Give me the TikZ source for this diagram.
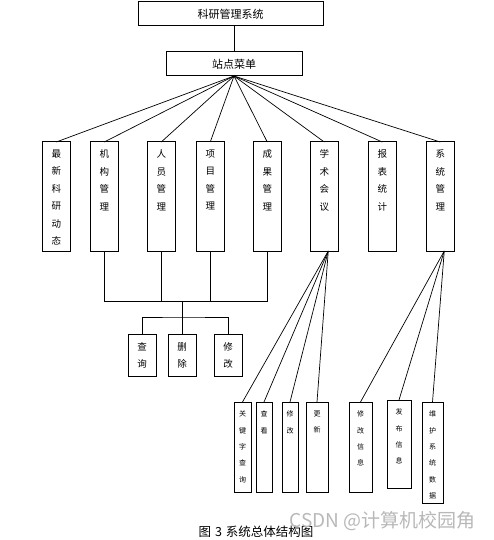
\documentclass[tikz,border=0pt]{standalone}
\usepackage{fontspec}
\setmainfont{Noto Sans CJK SC}
\usetikzlibrary{positioning}

% text stacked from the top of a tall box
\newcommand{\vtxt}[3]{\parbox[t][#1][t]{1.2em}{\centering\vspace*{#2}#3}}

\tikzset{
  menubox/.style={draw, line width=1pt, outer sep=0pt, minimum height=24pt, inner sep=0pt, anchor=north west, font=\fontsize{11}{12}\selectfont},
  colbox/.style={draw, line width=1pt, outer sep=0pt, minimum width=28.5pt, inner sep=0pt, font=\fontsize{9.5}{17.5}\selectfont},
  opbox/.style={draw, line width=1pt, outer sep=0pt, minimum width=28pt, inner sep=0pt, font=\fontsize{9.5}{16.5}\selectfont},
  subbox/.style={draw, line width=1pt, outer sep=0pt, inner sep=0pt, anchor=north west, font=\fontsize{7}{16.4}\selectfont},
  link/.style={line width=0.7pt},
}

\begin{document}
\begin{tikzpicture}[x=1pt, y=-1pt]
\useasboundingbox (0,0) rectangle (493,540);

\node[menubox, minimum width=185pt] (sys) at (138,2) {科研管理系统};
\node[menubox, minimum width=136pt] (menu) at (166,52) {站点菜单};

% modules
\node[colbox, anchor=north west] (news) at (42,142) {\vtxt{109pt}{7.7pt}{最\\新\\科\\研\\动\\态}};
\node[colbox, right=19.5pt of news] (org) {\vtxt{109pt}{7.7pt}{机\\构\\管\\理}};
\node[colbox, right=28.5pt of org] (staff) {\vtxt{109pt}{7.7pt}{人\\员\\管\\理}};
\node[colbox, right=20.5pt of staff] (proj) {\vtxt{109pt}{7.7pt}{项\\目\\管\\理}};
\node[colbox, right=28.5pt of proj] (result) {\vtxt{109pt}{7.7pt}{成\\果\\管\\理}};
\node[colbox, right=28.5pt of result] (meet) {\vtxt{109pt}{7.7pt}{学\\术\\会\\议}};
\node[colbox, right=29.5pt of meet] (report) {\vtxt{109pt}{7.7pt}{报\\表\\统\\计}};
\node[colbox, right=29.5pt of report] (admin) {\vtxt{109pt}{7.7pt}{系\\统\\管\\理}};

% shared operations
\node[opbox, anchor=north west] (query) at (128,334) {\vtxt{42pt}{8.7pt}{查\\询}};
\node[opbox, right=12pt of query] (del) {\vtxt{42pt}{8.7pt}{删\\除}};
\node[opbox, right=18pt of del] (fix) {\vtxt{42pt}{8.7pt}{修\\改}};

% meeting functions
\node[subbox, minimum width=17pt] (kw) at (234,402) {\vtxt{90pt}{8.8pt}{关\\键\\字\\查\\询}};
\node[subbox, minimum width=16pt] (view) at (256,402) {\vtxt{90pt}{8.8pt}{查\\看}};
\node[subbox, minimum width=16pt] (edit) at (282,402) {\vtxt{90pt}{8.8pt}{修\\改}};
\node[subbox, minimum width=22pt] (upd) at (306,402) {\vtxt{90pt}{8.8pt}{更\\新}};

% admin functions
\node[subbox, minimum width=23pt] (info) at (349,402) {\vtxt{90pt}{8.8pt}{修\\改\\信\\息}};
\node[subbox, minimum width=24pt] (post) at (387,400) {\vtxt{88pt}{8.8pt}{发\\布\\信\\息}};
\node[subbox, minimum width=21pt] (data) at (422,402) {\vtxt{101pt}{8.8pt}{维\\护\\系\\统\\数\\据}};

% connectors
\draw[link] (menu.north |- sys.south) -- (menu.north);
\foreach \n in {news,org,staff,proj,result,meet,report,admin}
  \draw[link] (menu.south) -- (\n.north);

\coordinate (bus) at (0,301);
\coordinate (ops) at (0,317);
\draw[link] (org.south) -- (org.south |- bus) -- (result.south |- bus) -- (result.south);
\draw[link] (staff.south) -- (staff.south |- bus);
\draw[link] (proj.south) -- (proj.south |- bus);
\draw[link] (del.north |- bus) -- (del.north);
\draw[link] (query.north) |- (del.north |- ops) -| (fix.north);

\coordinate (meetfan) at ([xshift=4pt]meet.south);
\foreach \n in {kw,view,edit,upd}
  \draw[link] (meetfan) -- (\n.north);
\coordinate (adminfan) at ([xshift=4pt]admin.south);
\foreach \n in {info,post,data}
  \draw[link] (adminfan) -- (\n.north);

\node[font=\fontsize{12.5}{14}\selectfont] (cap) at (256,532) {图\hspace{4pt}3\hspace{4pt}系统总体结构图};
\node[text=black!28, font=\fontsize{19}{22}\selectfont, anchor=west] (mark) at (286,521) {CSDN @计算机校园角};
\end{tikzpicture}
\end{document}
